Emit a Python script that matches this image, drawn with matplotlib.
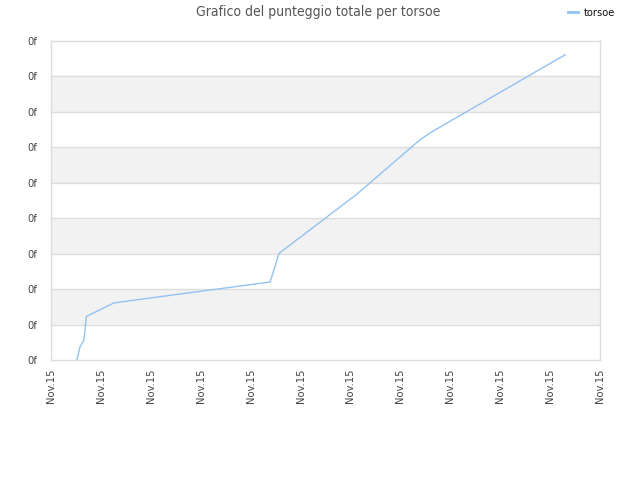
import matplotlib
matplotlib.use("Agg")
import matplotlib.pyplot as plt
from matplotlib.ticker import FixedLocator, FixedFormatter
from matplotlib.lines import Line2D

# data (x in tick-interval units, y in gridline units)
x_vals = [0.52, 0.58, 0.66, 0.71, 1.26, 1.78, 4.39, 4.57, 6.13, 7.39, 7.62, 10.30]
y_vals = [0.0, 0.37, 0.56, 1.23, 1.61, 1.71, 2.20, 3.01, 4.68, 6.21, 6.43, 8.61]
x_tick_labels = ["Nov.15"] * 12
y_tick_labels = ["0f"] * 10
series_name = "torsoe"
title = "Grafico del punteggio totale per torsoe"

fig = plt.figure(figsize=(6.4, 4.8), dpi=100)
ax = fig.add_axes([51/640, 120/480, 549/640, 319/480])

ax.set_xlim(0, 11)
ax.set_ylim(0, 9)

for lo in [1, 3, 5, 7]:
    ax.axhspan(lo, lo + 1, color="#f2f2f2", zorder=0, lw=0)
for yv in range(1, 9):
    ax.axhline(yv, color="#dddddd", lw=1, zorder=1)

ax.plot(x_vals, y_vals, color="#92c2f2", lw=1, zorder=3, label=series_name)

ax.xaxis.set_major_locator(FixedLocator(list(range(12))))
ax.xaxis.set_major_formatter(FixedFormatter(x_tick_labels))
ax.yaxis.set_major_locator(FixedLocator(list(range(10))))
ax.yaxis.set_major_formatter(FixedFormatter(y_tick_labels))
ax.tick_params(axis="x", rotation=90, length=0, labelsize=8, labelcolor="#444444", pad=6)
ax.tick_params(axis="y", length=0, labelsize=8, labelcolor="#444444", pad=10)
for lab in ax.get_xticklabels() + ax.get_yticklabels():
    lab.set_fontstretch("condensed")

for s in ax.spines.values():
    s.set_color("#dddddd")
    s.set_linewidth(1)

fig.text(318/640, 1 - 12/480, title, ha="center", va="center", fontsize=10,
         color="#555555", fontstretch="condensed")

handle = Line2D([], [], color="#92c2f2", lw=2)
leg = fig.legend(handles=[handle], labels=[series_name], loc="center left",
                 bbox_to_anchor=(568/640, 1 - 13/480), frameon=False, fontsize=8,
                 handlelength=0.9, handletextpad=0.5, borderpad=0, borderaxespad=0)
for t in leg.get_texts():
    t.set_fontstretch("condensed")
    t.set_color("#111111")

fig.savefig("out.png", dpi=100)
